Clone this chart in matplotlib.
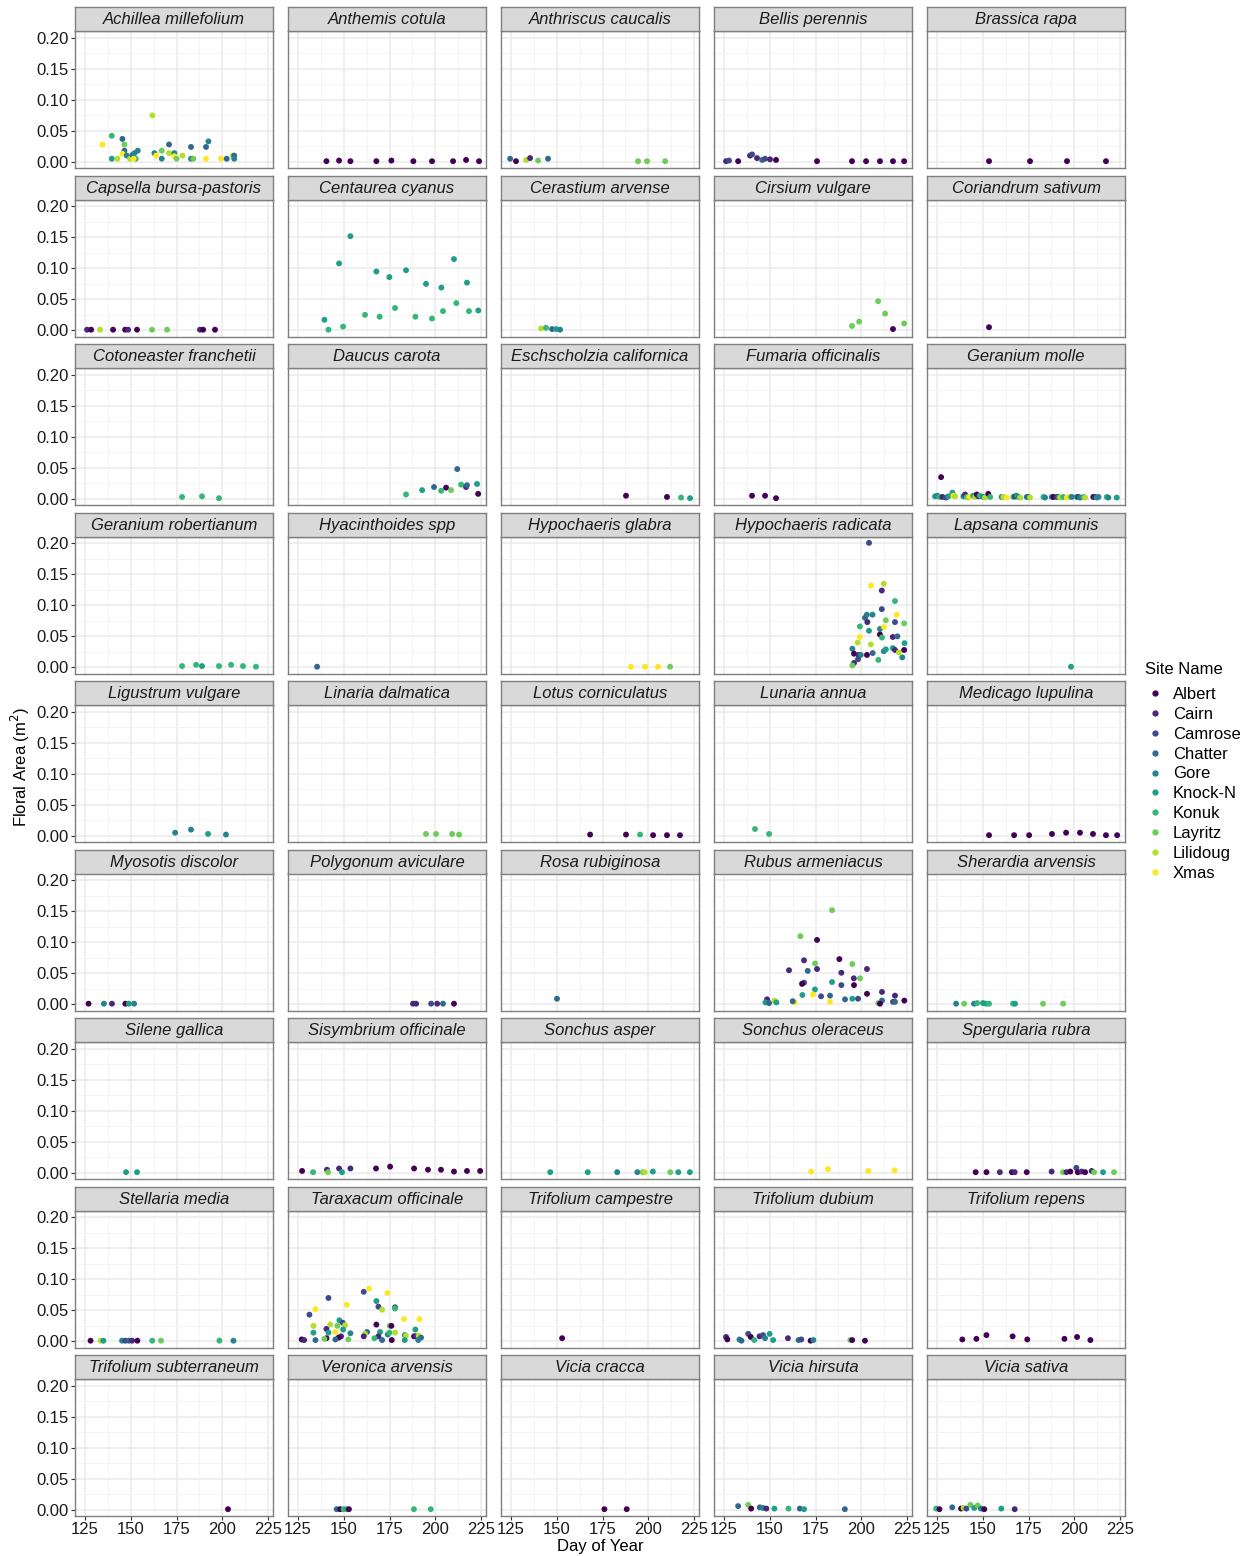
# Floral area by day of year, one panel per plant species, coloured by site
import matplotlib.pyplot as plt
from matplotlib.lines import Line2D

plt.rcParams['font.family'] = ['Liberation Sans', 'DejaVu Sans']

# %% data: (day of year, floral area m2, site code)
sites = ["Albert", "Cairn", "Camrose", "Chatter", "Gore",
         "Knock-N", "Konuk", "Layritz", "Lilidoug", "Xmas"]
site_codes = ["A", "C", "M", "H", "G", "N", "K", "L", "D", "X"]
site_colors = ["#440154", "#482878", "#3E4A89", "#31688E", "#26828E",
               "#1F9E89", "#35B779", "#6DCD59", "#B4DE2C", "#FDE725"]

achillea = [(134.5, 0.028, 'X'), (139.6, 0.042, 'K'), (139.6, 0.005, 'N'), (142.7, 0.005, 'D'),
            (145.4, 0.037, 'H'), (146.5, 0.028, 'L'), (146.5, 0.018, 'H'), (145.4, 0.013, 'X'),
            (147.8, 0.010, 'G'), (149.6, 0.005, 'D'), (150.9, 0.011, 'H'), (152.0, 0.014, 'G'),
            (153.8, 0.018, 'G'), (152.7, 0.005, 'K'), (151.5, 0.005, 'X'), (161.8, 0.075, 'D'),
            (162.9, 0.014, 'G'), (163.8, 0.010, 'X'), (166.9, 0.018, 'L'), (166.9, 0.005, 'G'),
            (170.9, 0.028, 'H'), (170.9, 0.014, 'D'), (173.8, 0.014, 'G'), (173.8, 0.009, 'X'),
            (175.0, 0.005, 'L'), (178.2, 0.010, 'D'), (182.9, 0.024, 'H'), (182.9, 0.005, 'G'),
            (184.2, 0.005, 'L'), (191.1, 0.024, 'H'), (192.4, 0.033, 'G'), (191.1, 0.005, 'X'),
            (199.3, 0.005, 'X'), (202.4, 0.005, 'H'), (205.7, 0.010, 'D'), (206.5, 0.010, 'H'),
            (206.5, 0.005, 'G')]
anthemis = [(140.5, 0.001, 'A'), (147.4, 0.002, 'A'), (153.6, 0.001, 'A'), (167.8, 0.001, 'A'),
            (176.0, 0.002, 'A'), (188.0, 0.001, 'A'), (198.2, 0.001, 'A'), (209.7, 0.001, 'A'),
            (216.8, 0.003, 'A'), (223.9, 0.001, 'A')]
anthriscus = [(124.5, 0.005, 'H'), (127.7, 0.001, 'A'), (133.2, 0.003, 'D'), (135.4, 0.006, 'C'),
              (139.8, 0.002, 'L'), (145.2, 0.005, 'H'), (194.4, 0.001, 'L'), (199.3, 0.001, 'L'),
              (209.2, 0.001, 'L')]
bellis = [(126.1, 0.001, 'C'), (127.7, 0.002, 'M'), (132.7, 0.001, 'A'), (139.2, 0.010, 'C'),
          (140.3, 0.012, 'M'), (143.0, 0.006, 'C'), (145.8, 0.003, 'H'), (147.4, 0.005, 'M'),
          (150.1, 0.004, 'C'), (153.4, 0.003, 'A'), (175.8, 0.001, 'A'), (194.9, 0.001, 'A'),
          (202.6, 0.001, 'A'), (210.2, 0.001, 'A'), (217.3, 0.001, 'A'), (223.4, 0.001, 'A')]
brassica = [(153.4, 0.001, 'A'), (175.8, 0.001, 'A'), (196.0, 0.001, 'A'), (217.3, 0.001, 'A')]
capsella = [(126.1, 0.001, 'C'), (128.3, 0.001, 'A'), (133.2, 0.001, 'D'), (140.3, 0.001, 'A'),
            (146.9, 0.001, 'A'), (148.5, 0.001, 'C'), (153.4, 0.001, 'A'), (161.6, 0.001, 'L'),
            (169.8, 0.001, 'L'), (187.8, 0.001, 'C'), (189.5, 0.001, 'A'), (196.0, 0.001, 'A')]
centaurea = [(139.4, 0.017, 'N'), (141.6, 0.001, 'K'), (147.4, 0.108, 'N'), (149.6, 0.006, 'K'),
             (153.6, 0.152, 'N'), (161.6, 0.025, 'K'), (167.8, 0.095, 'N'), (169.6, 0.022, 'K'),
             (174.9, 0.086, 'N'), (178.0, 0.036, 'K'), (184.0, 0.097, 'N'), (189.1, 0.022, 'K'),
             (194.9, 0.075, 'N'), (198.2, 0.019, 'K'), (203.3, 0.069, 'N'), (204.2, 0.031, 'K'),
             (210.2, 0.115, 'N'), (211.5, 0.044, 'K'), (217.3, 0.077, 'N'), (218.4, 0.031, 'K'),
             (223.5, 0.032, 'N')]
cerastium = [(141.4, 0.003, 'D'), (144.1, 0.004, 'K'), (147.4, 0.002, 'H'), (149.6, 0.002, 'N'),
             (151.8, 0.001, 'G')]
cirsium = [(194.9, 0.007, 'L'), (198.8, 0.014, 'L'), (209.2, 0.047, 'L'), (213.0, 0.027, 'L'),
           (217.3, 0.002, 'A'), (223.4, 0.011, 'L')]
coriandrum = [(153.4, 0.005, 'A')]
cotoneaster = [(178.0, 0.003, 'K'), (188.9, 0.004, 'K'), (198.2, 0.001, 'K')]
daucus = [(184.0, 0.007, 'K'), (192.8, 0.014, 'N'), (199.3, 0.019, 'H'), (203.2, 0.013, 'K'),
          (205.9, 0.018, 'A'), (208.6, 0.014, 'L'), (212.0, 0.048, 'H'), (214.1, 0.023, 'K'),
          (216.8, 0.019, 'C'), (217.3, 0.022, 'H'), (222.8, 0.024, 'N'), (223.4, 0.008, 'A')]
eschscholzia = [(187.8, 0.005, 'A'), (210.2, 0.003, 'A'), (217.9, 0.002, 'K'), (222.8, 0.001, 'N')]
fumaria = [(140.3, 0.005, 'A'), (147.4, 0.005, 'A'), (153.4, 0.001, 'A')]
geranium_molle = [(127.2, 0.035, 'A'), (123.9, 0.004, 'N'), (125.2, 0.005, 'G'), (126.3, 0.003, 'K'),
                  (127.9, 0.003, 'C'), (129.9, 0.002, 'M'), (131.2, 0.004, 'N'), (133.4, 0.010, 'N'),
                  (133.9, 0.005, 'X'), (134.8, 0.004, 'D'), (139.4, 0.004, 'G'), (140.3, 0.007, 'C'),
                  (141.2, 0.003, 'K'), (142.1, 0.002, 'D'), (143.0, 0.004, 'X'), (144.8, 0.005, 'N'),
                  (145.8, 0.003, 'D'), (146.7, 0.007, 'A'), (147.6, 0.004, 'C'), (148.5, 0.005, 'K'),
                  (150.3, 0.003, 'G'), (151.2, 0.002, 'D'), (153.0, 0.008, 'A'), (154.0, 0.003, 'K'),
                  (160.3, 0.003, 'G'), (161.2, 0.003, 'D'), (163.1, 0.002, 'X'), (166.7, 0.003, 'K'),
                  (167.6, 0.004, 'C'), (168.5, 0.005, 'N'), (169.4, 0.003, 'G'), (170.4, 0.002, 'D'),
                  (174.0, 0.003, 'G'), (174.9, 0.003, 'H'), (175.8, 0.002, 'D'), (183.1, 0.003, 'K'),
                  (184.0, 0.002, 'G'), (187.7, 0.003, 'G'), (188.6, 0.003, 'A'), (190.4, 0.003, 'C'),
                  (191.3, 0.003, 'G'), (192.2, 0.002, 'D'), (194.0, 0.003, 'K'), (195.9, 0.002, 'X'),
                  (197.7, 0.003, 'D'), (198.6, 0.003, 'G'), (201.3, 0.003, 'N'), (202.2, 0.003, 'C'),
                  (203.1, 0.002, 'G'), (205.0, 0.003, 'K'), (205.9, 0.002, 'D'), (210.4, 0.003, 'A'),
                  (211.3, 0.003, 'C'), (212.3, 0.002, 'N'), (213.2, 0.003, 'G'), (217.7, 0.003, 'K'),
                  (218.6, 0.002, 'G'), (223.2, 0.002, 'N')]
geranium_rob = [(178.0, 0.002, 'K'), (185.7, 0.004, 'K'), (188.9, 0.002, 'N'), (198.2, 0.002, 'K'),
                (204.8, 0.004, 'K'), (211.3, 0.002, 'K'), (218.4, 0.001, 'K')]
hyacinthoides = [(135.4, 0.001, 'H')]
hypo_glabra = [(190.5, 0.001, 'X'), (198.2, 0.001, 'X'), (205.3, 0.001, 'X'), (211.9, 0.001, 'L')]
hypo_radicata = [(204.2, 0.201, 'M'), (205.3, 0.132, 'X'), (212.3, 0.135, 'D'), (211.2, 0.124, 'C'),
                 (218.4, 0.107, 'K'), (211.2, 0.094, 'M'), (203.0, 0.085, 'G'), (206.1, 0.085, 'G'),
                 (202.0, 0.080, 'H'), (203.3, 0.073, 'C'), (219.4, 0.085, 'X'), (213.4, 0.076, 'L'),
                 (218.4, 0.073, 'M'), (223.4, 0.071, 'L'), (199.2, 0.066, 'K'), (204.2, 0.059, 'N'),
                 (210.2, 0.062, 'G'), (212.4, 0.065, 'X'), (210.2, 0.053, 'A'), (211.3, 0.048, 'K'),
                 (217.2, 0.049, 'C'), (219.7, 0.050, 'H'), (199.2, 0.049, 'X'), (198.0, 0.040, 'D'),
                 (205.2, 0.037, 'D'), (195.1, 0.030, 'G'), (196.0, 0.022, 'A'), (198.4, 0.020, 'C'),
                 (199.7, 0.020, 'G'), (198.2, 0.013, 'M'), (203.1, 0.020, 'A'), (206.2, 0.023, 'H'),
                 (212.3, 0.026, 'G'), (213.4, 0.029, 'N'), (209.3, 0.012, 'K'), (217.2, 0.031, 'N'),
                 (218.4, 0.028, 'C'), (220.5, 0.024, 'D'), (223.4, 0.028, 'A'), (223.6, 0.039, 'N'),
                 (222.4, 0.016, 'G'), (196.0, 0.007, 'C'), (195.1, 0.003, 'L')]
lapsana = [(198.2, 0.001, 'N')]
ligustrum = [(174.2, 0.005, 'G'), (182.9, 0.010, 'G'), (192.2, 0.003, 'N'), (202.0, 0.002, 'G')]
linaria = [(194.9, 0.003, 'L'), (200.4, 0.003, 'L'), (209.2, 0.003, 'L'), (213.0, 0.002, 'L')]
lotus = [(168.2, 0.002, 'A'), (187.8, 0.002, 'A'), (195.5, 0.002, 'K'), (202.6, 0.001, 'A'),
         (210.2, 0.001, 'A'), (217.3, 0.001, 'A')]
lunaria = [(141.9, 0.011, 'K'), (149.6, 0.003, 'K')]
medicago = [(153.4, 0.001, 'A'), (167.1, 0.001, 'A'), (175.3, 0.001, 'A'), (187.8, 0.003, 'A'),
            (195.5, 0.005, 'A'), (203.1, 0.005, 'A'), (210.2, 0.003, 'A'), (217.3, 0.001, 'A'),
            (223.4, 0.001, 'A')]
myosotis = [(126.9, 0.001, 'A'), (135.3, 0.001, 'G'), (139.7, 0.001, 'C'), (147.0, 0.001, 'A'),
            (148.9, 0.001, 'N'), (151.8, 0.001, 'G')]
polygonum = [(187.8, 0.001, 'C'), (189.5, 0.001, 'C'), (197.7, 0.001, 'M'), (201.0, 0.001, 'C'),
             (204.2, 0.001, 'H'), (210.2, 0.001, 'A')]
rosa = [(150.1, 0.009, 'H')]
rubus = [(184.0, 0.152, 'L'), (166.7, 0.110, 'L'), (175.8, 0.104, 'A'), (168.7, 0.071, 'C'),
         (188.0, 0.073, 'A'), (174.7, 0.066, 'L'), (195.1, 0.065, 'L'), (160.5, 0.055, 'C'),
         (170.7, 0.054, 'H'), (175.8, 0.057, 'C'), (203.1, 0.057, 'C'), (189.1, 0.051, 'C'),
         (195.9, 0.042, 'C'), (199.3, 0.042, 'L'), (168.7, 0.035, 'M'), (167.6, 0.033, 'A'),
         (184.0, 0.036, 'N'), (189.1, 0.031, 'M'), (196.0, 0.031, 'A'), (174.7, 0.024, 'N'),
         (167.8, 0.015, 'N'), (173.6, 0.016, 'X'), (178.0, 0.013, 'M'), (182.9, 0.014, 'H'),
         (191.1, 0.008, 'H'), (195.1, 0.009, 'N'), (198.2, 0.009, 'M'), (203.1, 0.017, 'A'),
         (211.3, 0.020, 'C'), (218.4, 0.014, 'C'), (211.3, 0.006, 'H'), (209.3, 0.002, 'L'),
         (210.2, 0.001, 'A'), (217.3, 0.004, 'M'), (218.4, 0.004, 'H'), (223.5, 0.006, 'A'),
         (182.9, 0.004, 'X'), (163.6, 0.003, 'X'), (162.5, 0.005, 'H'), (148.5, 0.008, 'C'),
         (147.6, 0.003, 'N'), (149.6, 0.002, 'H'), (152.5, 0.006, 'D'), (153.6, 0.003, 'N')]
sherardia = [(135.4, 0.001, 'G'), (139.8, 0.001, 'L'), (145.2, 0.001, 'G'), (146.9, 0.002, 'K'),
             (150.1, 0.002, 'N'), (151.8, 0.001, 'N'), (153.4, 0.001, 'K'), (166.5, 0.001, 'K'),
             (167.6, 0.001, 'N'), (182.9, 0.001, 'L'), (193.9, 0.001, 'L')]
silene = [(147.4, 0.001, 'N'), (153.4, 0.001, 'N')]
sisymbrium = [(127.2, 0.003, 'A'), (133.2, 0.001, 'K'), (140.8, 0.005, 'C'), (141.4, 0.001, 'L'),
              (147.4, 0.007, 'C'), (149.0, 0.001, 'N'), (153.6, 0.007, 'C'), (167.6, 0.007, 'A'),
              (175.3, 0.010, 'A'), (188.4, 0.007, 'A'), (196.0, 0.005, 'A'), (203.1, 0.005, 'A'),
              (210.2, 0.002, 'A'), (217.3, 0.003, 'A'), (224.5, 0.003, 'A')]
sonchus_asper = [(146.4, 0.001, 'N'), (166.9, 0.001, 'N'), (183.0, 0.001, 'G'), (194.0, 0.001, 'G'),
                 (197.0, 0.001, 'L'), (198.0, 0.001, 'D'), (202.5, 0.002, 'N'), (212.0, 0.001, 'L'),
                 (216.4, 0.001, 'N'), (222.7, 0.001, 'N')]
sonchus_oler = [(172.6, 0.002, 'X'), (181.8, 0.006, 'X'), (203.9, 0.003, 'X'), (218.2, 0.004, 'X')]
spergularia = [(146.1, 0.001, 'A'), (152.0, 0.001, 'A'), (159.3, 0.001, 'C'), (165.9, 0.001, 'A'),
               (167.4, 0.001, 'C'), (174.0, 0.001, 'A'), (187.6, 0.002, 'C'), (193.8, 0.001, 'L'),
               (195.7, 0.001, 'C'), (197.8, 0.002, 'A'), (201.1, 0.008, 'M'), (201.9, 0.001, 'A'),
               (204.0, 0.002, 'C'), (205.9, 0.001, 'A'), (209.5, 0.003, 'C'), (210.8, 0.001, 'L'),
               (215.7, 0.001, 'N'), (221.7, 0.001, 'L')]
stellaria = [(128.0, 0.001, 'A'), (133.5, 0.001, 'D'), (135.0, 0.001, 'N'), (145.2, 0.001, 'G'),
             (147.0, 0.001, 'M'), (148.9, 0.001, 'H'), (150.7, 0.001, 'C'), (153.6, 0.001, 'A'),
             (161.7, 0.001, 'K'), (166.5, 0.001, 'L'), (198.4, 0.001, 'K'), (206.1, 0.001, 'G')]
taraxacum = [(127.0, 0.003, 'A'), (128.3, 0.002, 'C'), (131.2, 0.043, 'M'), (134.5, 0.052, 'X'),
             (133.4, 0.025, 'D'), (133.4, 0.014, 'N'), (134.5, 0.002, 'H'), (141.6, 0.070, 'M'),
             (140.5, 0.020, 'C'), (141.6, 0.014, 'N'), (140.5, 0.005, 'A'), (139.4, 0.004, 'L'),
             (142.6, 0.027, 'D'), (145.4, 0.015, 'X'), (146.5, 0.025, 'L'), (147.6, 0.034, 'N'),
             (149.4, 0.030, 'M'), (150.7, 0.026, 'D'), (149.6, 0.019, 'N'), (153.6, 0.013, 'G'),
             (148.5, 0.008, 'C'), (147.2, 0.006, 'A'), (145.4, 0.003, 'H'), (152.5, 0.003, 'L'),
             (151.6, 0.059, 'X'), (160.9, 0.080, 'M'), (163.8, 0.085, 'X'), (167.8, 0.065, 'N'),
             (168.9, 0.056, 'M'), (170.9, 0.051, 'D'), (173.8, 0.078, 'X'), (178.0, 0.055, 'M'),
             (178.0, 0.053, 'K'), (167.8, 0.027, 'A'), (175.1, 0.025, 'L'), (176.0, 0.025, 'A'),
             (162.7, 0.015, 'H'), (161.6, 0.012, 'D'), (160.9, 0.008, 'C'), (169.8, 0.015, 'N'),
             (168.9, 0.008, 'C'), (166.7, 0.005, 'K'), (170.9, 0.002, 'H'), (174.0, 0.011, 'G'),
             (174.9, 0.014, 'K'), (178.0, 0.014, 'D'), (176.2, 0.002, 'A'), (182.9, 0.036, 'X'),
             (191.3, 0.036, 'X'), (189.1, 0.019, 'N'), (183.3, 0.010, 'G'), (183.9, 0.009, 'D'),
             (183.3, 0.002, 'N'), (188.4, 0.008, 'A'), (189.4, 0.008, 'C'), (190.9, 0.009, 'D'),
             (192.2, 0.006, 'H'), (190.7, 0.002, 'G')]
trif_campestre = [(152.9, 0.005, 'A')]
trif_dubium = [(126.1, 0.007, 'C'), (126.8, 0.003, 'A'), (133.4, 0.003, 'G'), (134.5, 0.001, 'H'),
               (138.2, 0.012, 'M'), (139.6, 0.007, 'A'), (141.5, 0.002, 'K'), (144.4, 0.008, 'C'),
               (146.3, 0.010, 'M'), (147.4, 0.005, 'G'), (149.9, 0.012, 'N'), (151.8, 0.002, 'N'),
               (159.9, 0.005, 'C'), (165.7, 0.002, 'H'), (167.2, 0.003, 'M'), (172.3, 0.001, 'A'),
               (173.8, 0.002, 'G'), (194.0, 0.002, 'L'), (195.0, 0.002, 'A'), (202.0, 0.001, 'A')]
trif_repens = [(138.8, 0.003, 'A'), (146.5, 0.004, 'A'), (152.0, 0.010, 'A'), (166.3, 0.008, 'A'),
               (174.3, 0.003, 'A'), (194.6, 0.004, 'A'), (201.5, 0.007, 'A'), (208.8, 0.002, 'A')]
trif_subterraneum = [(203.1, 0.001, 'A')]
veronica = [(146.1, 0.001, 'H'), (148.0, 0.001, 'A'), (149.9, 0.001, 'K'), (151.7, 0.001, 'N'),
            (152.8, 0.001, 'A'), (188.3, 0.001, 'K'), (197.5, 0.001, 'K')]
vicia_cracca = [(176.0, 0.001, 'A'), (188.2, 0.001, 'A')]
vicia_hirsuta = [(132.7, 0.006, 'H'), (138.2, 0.008, 'L'), (139.8, 0.002, 'A'), (144.5, 0.004, 'H'),
                 (146.3, 0.003, 'G'), (148.1, 0.002, 'C'), (152.5, 0.002, 'N'), (160.2, 0.002, 'K'),
                 (166.4, 0.002, 'H'), (168.7, 0.001, 'N'), (191.0, 0.001, 'H')]
vicia_sativa = [(124.5, 0.002, 'K'), (126.3, 0.001, 'A'), (133.3, 0.004, 'H'), (138.1, 0.002, 'A'),
                (139.5, 0.003, 'D'), (141.0, 0.002, 'M'), (143.2, 0.008, 'L'), (145.3, 0.003, 'N'),
                (147.2, 0.007, 'L'), (149.0, 0.002, 'G'), (150.8, 0.001, 'A'), (160.1, 0.002, 'N'),
                (167.4, 0.001, 'C')]

panels = [
    ("Achillea millefolium", achillea), ("Anthemis cotula", anthemis),
    ("Anthriscus caucalis", anthriscus), ("Bellis perennis", bellis),
    ("Brassica rapa", brassica), ("Capsella bursa-pastoris", capsella),
    ("Centaurea cyanus", centaurea), ("Cerastium arvense", cerastium),
    ("Cirsium vulgare", cirsium), ("Coriandrum sativum", coriandrum),
    ("Cotoneaster franchetii", cotoneaster), ("Daucus carota", daucus),
    ("Eschscholzia californica", eschscholzia), ("Fumaria officinalis", fumaria),
    ("Geranium molle", geranium_molle), ("Geranium robertianum", geranium_rob),
    ("Hyacinthoides spp", hyacinthoides), ("Hypochaeris glabra", hypo_glabra),
    ("Hypochaeris radicata", hypo_radicata), ("Lapsana communis", lapsana),
    ("Ligustrum vulgare", ligustrum), ("Linaria dalmatica", linaria),
    ("Lotus corniculatus", lotus), ("Lunaria annua", lunaria),
    ("Medicago lupulina", medicago), ("Myosotis discolor", myosotis),
    ("Polygonum aviculare", polygonum), ("Rosa rubiginosa", rosa),
    ("Rubus armeniacus", rubus), ("Sherardia arvensis", sherardia),
    ("Silene gallica", silene), ("Sisymbrium officinale", sisymbrium),
    ("Sonchus asper", sonchus_asper), ("Sonchus oleraceus", sonchus_oler),
    ("Spergularia rubra", spergularia), ("Stellaria media", stellaria),
    ("Taraxacum officinale", taraxacum), ("Trifolium campestre", trif_campestre),
    ("Trifolium dubium", trif_dubium), ("Trifolium repens", trif_repens),
    ("Trifolium subterraneum", trif_subterraneum), ("Veronica arvensis", veronica),
    ("Vicia cracca", vicia_cracca), ("Vicia hirsuta", vicia_hirsuta),
    ("Vicia sativa", vicia_sativa),
]

x_ticks = [125, 150, 175, 200, 225]
y_ticks = [0.00, 0.05, 0.10, 0.15, 0.20]

# %% layout (pixels)
W, H = 1247, 1556
fig = plt.figure(figsize=(W / 100, H / 100), dpi=100)
FS = 12


def px_axes(x, y, w, h):
    return fig.add_axes([x / W, 1 - (y + h) / H, w / W, h / H])


color_of = dict(zip(site_codes, site_colors))
border = "#7F7F7F"
ncol, nrow = 5, 9

for i, (name, pts) in enumerate(panels):
    r, c = divmod(i, ncol)
    left = 75 + 213 * c
    top = 31 + 168.5 * r
    ax = px_axes(left, top, 198, 137)
    ax.set_xlim(119.5, 227.7)
    ax.set_ylim(-0.0100, 0.2113)
    ax.set_xticks(x_ticks)
    ax.set_yticks(y_ticks)
    ax.set_xticks([137.5, 162.5, 187.5, 212.5], minor=True)
    ax.set_yticks([0.025, 0.075, 0.125, 0.175], minor=True)
    ax.grid(which="major", color="#EBEBEB", lw=1.1)
    ax.grid(which="minor", color="#F3F3F3", lw=0.6)
    ax.set_axisbelow(True)
    for s in ax.spines.values():
        s.set_color(border)
        s.set_linewidth(1.0)

    xs = [p[0] for p in pts]
    ys = [p[1] for p in pts]
    cs = [color_of[p[2]] for p in pts]
    ax.scatter(xs, ys, c=cs, s=18, edgecolors="none", zorder=3)

    ax.tick_params(which="minor", length=0)
    ax.tick_params(which="major", length=3, width=0.8, color="#333333",
                   labelsize=FS, labelcolor="#1A1A1A", pad=1.5)
    if c == 0:
        ax.set_yticklabels([f"{v:.2f}" for v in y_ticks])
    else:
        ax.tick_params(axis="y", length=0, labelleft=False)
    if r == nrow - 1:
        ax.set_xticklabels([str(v) for v in x_ticks])
    else:
        ax.tick_params(axis="x", length=0, labelbottom=False)

    st = px_axes(left, top - 24, 198, 24)
    st.set_facecolor("#D9D9D9")
    st.set_xticks([])
    st.set_yticks([])
    for s in st.spines.values():
        s.set_color(border)
        s.set_linewidth(1.0)
    st.text(0.5, 0.47, name, ha="center", va="center", fontsize=FS,
            style="italic", color="#1A1A1A", transform=st.transAxes)

fig.text(600 / W, 1 - 1546 / H, "Day of Year", ha="center", va="center", fontsize=FS)
fig.text(20 / W, 1 - 767 / H, "Floral Area (m$^2$)", ha="center", va="center",
         rotation=90, fontsize=FS)

# legend: title as separate text, entries below
fig.text(1145 / W, 1 - 670 / H, "Site Name", ha="left", va="center", fontsize=FS)
handles = [Line2D([], [], marker="o", ls="none", color=col, markersize=3.5)
           for col in site_colors]
fig.legend(handles, sites, loc="upper left",
           bbox_to_anchor=(1146 / W, 1 - 687 / H), frameon=False,
           fontsize=FS, labelspacing=0.29, borderpad=0,
           handletextpad=0.5, handlelength=1.1, borderaxespad=0)

fig.savefig("out.png", dpi=100)
